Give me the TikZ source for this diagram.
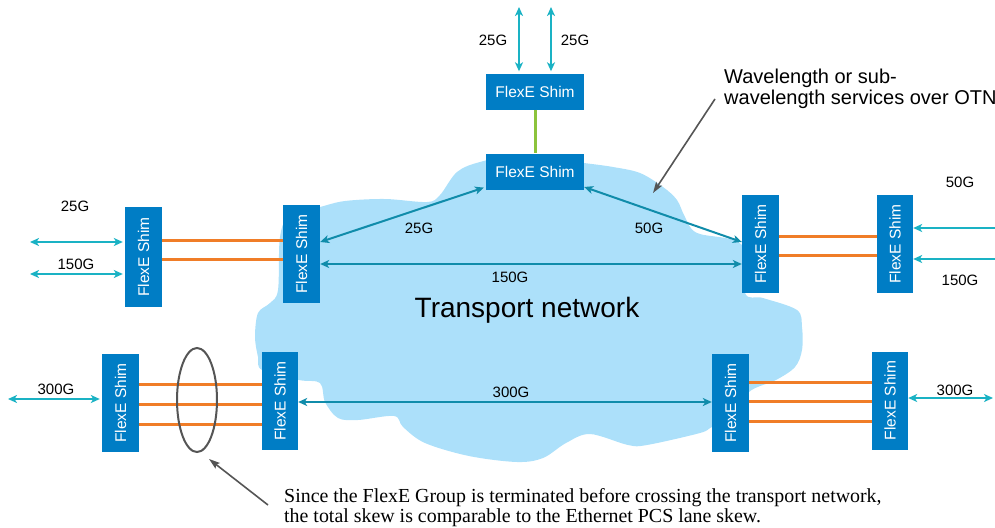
\documentclass[tikz,border=0pt]{standalone}
\usepackage{fontspec}
\setmainfont{Liberation Sans}
\newfontfamily\notefont{Liberation Serif}
\usetikzlibrary{arrows.meta}
\definecolor{shimblue}{RGB}{0,125,197}
\definecolor{cloudblue}{RGB}{172,224,250}
\definecolor{outcyan}{RGB}{26,178,196}
\definecolor{incyan}{RGB}{16,140,170}
\definecolor{lineorange}{RGB}{240,125,40}
\definecolor{linegreen}{RGB}{140,195,60}
\definecolor{notegray}{RGB}{85,85,85}
\begin{document}
\begin{tikzpicture}[x=1pt,y=-1pt,
  hshim/.style={fill=shimblue,text=white,minimum width=98pt,minimum height=36pt,inner sep=0pt,font=\fontsize{15.5}{18}\selectfont},
  vshim/.style={fill=shimblue,text=white,minimum width=37pt,minimum height=98pt,inner sep=0pt,font=\fontsize{15.5}{18}\selectfont},
  lbl/.style={font=\fontsize{15}{17}\selectfont,text=black,inner sep=0pt},
  orangeline/.style={draw=lineorange,line width=3pt},
  greenline/.style={draw=linegreen,line width=3pt},
  outarrow/.style={draw=outcyan,line width=2.2pt,{Stealth[length=9pt,width=8pt,inset=2.5pt]}-{Stealth[length=9pt,width=8pt,inset=2.5pt]}},
  inarrow/.style={draw=incyan,line width=2pt,{Stealth[length=9pt,width=8pt,inset=2.5pt]}-{Stealth[length=9pt,width=8pt,inset=2.5pt]}},
  grayarrow/.style={draw=notegray,line width=1.6pt,-{Stealth[length=11pt,width=7pt,inset=2pt]}},
  lens/.style={draw=notegray,line width=2pt}
]
\useasboundingbox (0,0) rectangle (995,527);
\clip (0,0) rectangle (995,527);

% cloud
\fill[cloudblue] plot[smooth cycle,tension=0.55] coordinates {
 (255,337) (258,313) (270,303) (278,290) (280,237) (290,215) (320,207) (345,201)
 (385,199) (427,202) (440,195) (457,172) (480,162) (520,155) (584,163) (613,167)
 (640,173) (663,187) (677,200) (685,217) (697,233) (742,245) (745,293) (763,298)
 (797,310) (802,327) (802,350) (795,367) (776,380) (749,392) (735,418) (712,427)
 (700,433) (647,445) (628,445) (590,434) (566,443) (543,458) (517,462) (469,456)
 (425,443) (403,427) (394,416) (358,420) (338,418) (325,402) (320,383) (299,380)
 (262,370) (258,357)};

% shims
\node[hshim] (t1) at (535,91.5) {FlexE Shim};
\node[hshim] (t2) at (535,171.5) {FlexE Shim};
\node[vshim,minimum height=100pt] (l1) at (143.5,257) {\rotatebox{90}{FlexE Shim}};
\node[vshim] (l2) at (301.5,254) {\rotatebox{90}{FlexE Shim}};
\node[vshim] (r1) at (760.5,244) {\rotatebox{90}{FlexE Shim}};
\node[vshim,minimum width=36pt] (r2) at (895,244) {\rotatebox{90}{FlexE Shim}};
\node[vshim] (bl1) at (120.5,403) {\rotatebox{90}{FlexE Shim}};
\node[vshim,minimum width=36pt] (bl2) at (280,401) {\rotatebox{90}{FlexE Shim}};
\node[vshim] (br1) at (730.5,403) {\rotatebox{90}{FlexE Shim}};
\node[vshim,minimum width=36pt] (br2) at (890,400.5) {\rotatebox{90}{FlexE Shim}};

% free ends
\coordinate (ta) at (519,7);
\coordinate (tb) at (551,7);
\coordinate (la) at (30,242);
\coordinate (lb) at (30,274);
\coordinate (ra) at (1010,228);
\coordinate (rb) at (1010,259);
\coordinate (bla) at (8,399);
\coordinate (bra) at (993,398);

% green link
\draw[greenline] (t1) -- (t2);

% orange lanes
\draw[orangeline] (l1.east |- 0,240) -- (l2.west |- 0,240);
\draw[orangeline] (l1.east |- 0,259) -- (l2.west |- 0,259);
\draw[orangeline] (r1.east |- 0,236) -- (r2.west |- 0,236);
\draw[orangeline] (r1.east |- 0,255) -- (r2.west |- 0,255);
\draw[orangeline] (bl1.east |- 0,384) -- (bl2.west |- 0,384);
\draw[orangeline] (bl1.east |- 0,404) -- (bl2.west |- 0,404);
\draw[orangeline] (bl1.east |- 0,424) -- (bl2.west |- 0,424);
\draw[orangeline] (br1.east |- 0,382) -- (br2.west |- 0,382);
\draw[orangeline] (br1.east |- 0,401) -- (br2.west |- 0,401);
\draw[orangeline] (br1.east |- 0,421) -- (br2.west |- 0,421);

% outside client arrows
\draw[outarrow,shorten >=2pt] (ta) -- (t1.north -| ta);
\draw[outarrow,shorten >=2pt] (tb) -- (t1.north -| tb);
\draw[outarrow,shorten >=2pt] (la) -- (l1.west |- la);
\draw[outarrow,shorten >=2pt] (lb) -- (l1.west |- lb);
\draw[outarrow] (ra) -- (r2.east |- ra);
\draw[outarrow] (rb) -- (r2.east |- rb);
\draw[outarrow,shorten >=2pt] (bla) -- (bl1.west |- bla);
\draw[outarrow] (bra) -- (br2.east |- bra);

% transport arrows
\draw[inarrow,shorten >=2pt] (l2.east |- 0,242) -- (t2.west |- 0,187);
\draw[inarrow] (t2.east |- 0,187) -- (r1.west |- 0,242);
\draw[inarrow] (l2.east |- 0,264) -- (r1.west |- 0,264);
\draw[inarrow] (bl2.east |- 0,402) -- (br1.west |- 0,402);

% labels
\node[lbl] (g1) at (75,206) {25G};
\node[lbl] (g2) at (76,264) {150G};
\node[lbl] (g3) at (493,40) {25G};
\node[lbl] (g4) at (575,40) {25G};
\node[lbl] (g5) at (419,228) {25G};
\node[lbl] (g6) at (649,228) {50G};
\node[lbl] (g7) at (510,277) {150G};
\node[lbl] (g8) at (960,182) {50G};
\node[lbl] (g9) at (960,280) {150G};
\node[lbl] (g10) at (56,389) {300G};
\node[lbl] (g11) at (511,392) {300G};
\node[lbl] (g12) at (955,390) {300G};
\node[inner sep=0pt,font=\fontsize{28}{32}\selectfont] (tn) at (527,310) {Transport network};

% OTN note
\node[inner sep=0pt,anchor=west,align=left,font=\fontsize{20}{21}\selectfont] (otn) at (724,89) {Wavelength or sub-\\wavelength services over OTN};
\coordinate (otntail) at (715,99);
\coordinate (otnhead) at (653,193);
\draw[grayarrow] (otntail) -- (otnhead);

% lens and skew note
\draw[lens] (197,400) ellipse [x radius=20pt, y radius=52pt];
\node[inner sep=0pt,anchor=west,align=left,font=\notefont\fontsize{19.9}{20}\selectfont] (note) at (284,508) {Since the FlexE Group is terminated before crossing the transport network,\\the total skew is comparable to the Ethernet PCS lane skew.};
\coordinate (notetail) at (268,505);
\coordinate (notehead) at (209,459);
\draw[grayarrow] (notetail) -- (notehead);
\end{tikzpicture}
\end{document}
